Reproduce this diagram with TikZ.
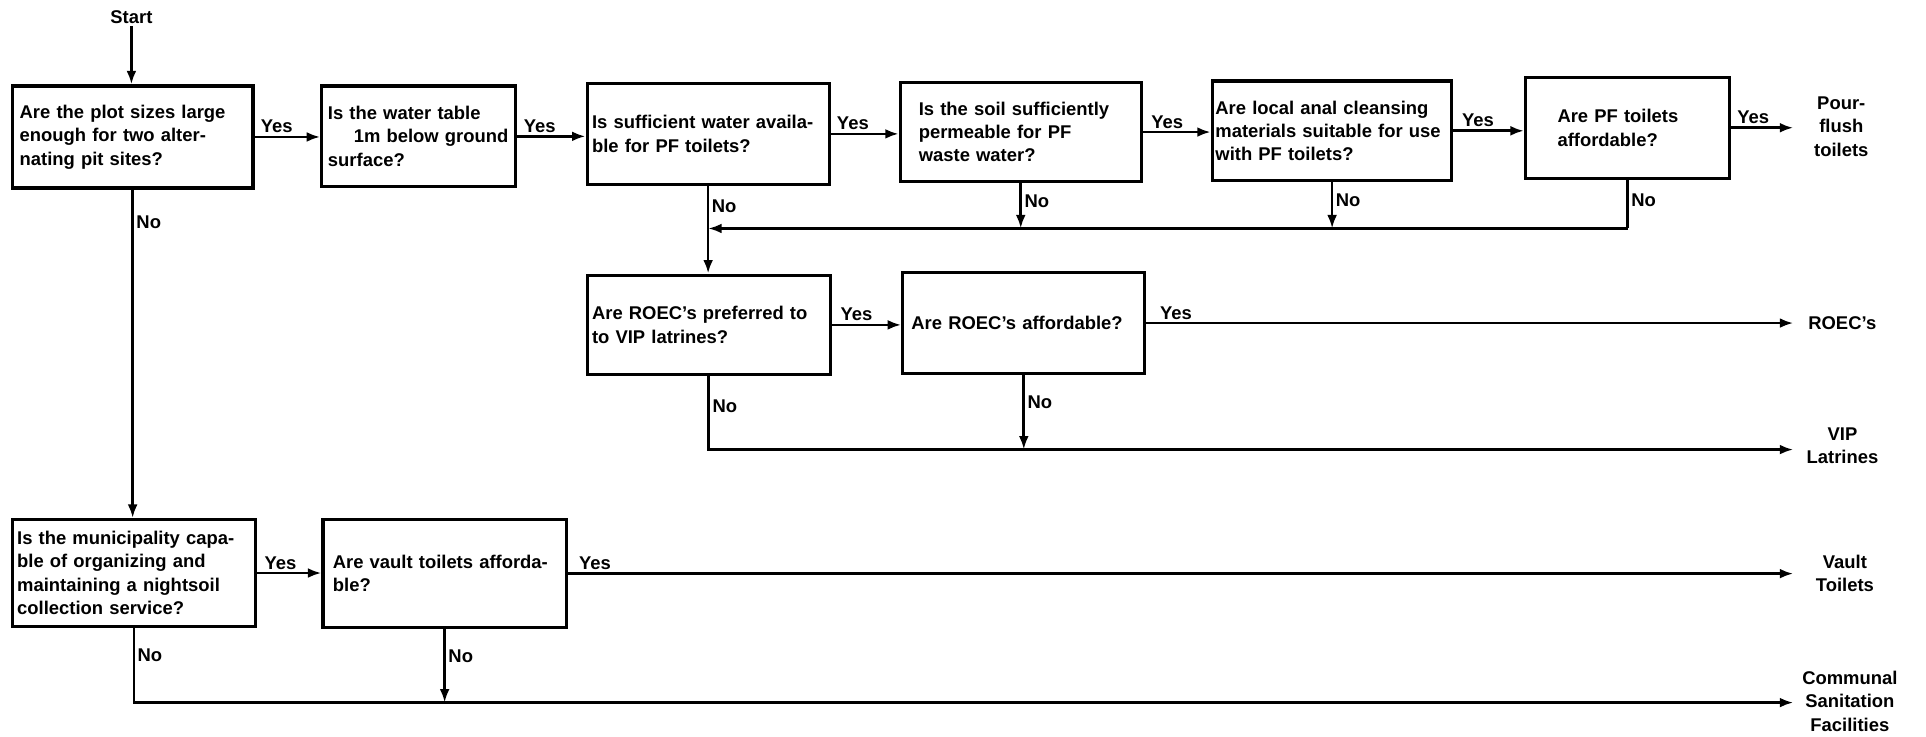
\documentclass[tikz,border=0pt]{standalone}
\usepackage{fontspec}
\setmainfont{Liberation Sans}
\usetikzlibrary{arrows.meta,calc}
\newcommand\flowfont{\bfseries\fontsize{15}{19}\selectfont}
\tikzset{
  qbox/.style={draw, line width=2.6pt, align=left, font=\flowfont, inner ysep=4pt},
  conn/.style={line width=2.2pt},
  arr/.style={conn, -{Latex[length=11pt,width=8pt]}},
  yeslab/.style={font=\flowfont, anchor=south west, inner sep=2pt},
  nolab/.style={font=\flowfont, anchor=north west, inner sep=2pt},
  term/.style={font=\flowfont, align=center, inner sep=0pt},
}
\begin{document}
\begin{tikzpicture}[x=1pt,y=-1pt]
\useasboundingbox[fill=white] (0,0) rectangle (1568,600);

% start
\node[font=\flowfont, inner sep=2pt] (start) at (107,14) {Start};

% boxes
\node[qbox, text width=184pt, inner xsep=6pt, minimum height=83pt] (b1) at (108,111.5)
  {Are the plot sizes large\\enough for two alter-\\nating pit sites?};
\node[qbox, text width=148pt, inner xsep=5pt, minimum height=82pt] (b2) at (341,111)
  {Is the water table\\\hspace*{1.4em}1m below ground\\surface?};
\node[qbox, text width=189pt, inner xsep=4pt, minimum height=82pt] (b3) at (576.5,109)
  {Is sufficient water availa-\\ble for PF toilets?};
\node[qbox, text width=166pt, inner xsep=15pt, minimum height=81pt] (b4) at (831,107.5)
  {Is the soil sufficiently\\permeable for PF\\waste water?};
\node[qbox, text width=190pt, inner xsep=2.5pt, minimum height=81pt] (b5) at (1084.5,106.5)
  {Are local anal cleansing\\materials suitable for use\\with PF toilets?};
\node[qbox, text width=114pt, inner xsep=26pt, minimum height=82pt] (b6) at (1325,104)
  {Are PF toilets\\affordable?};
\node[qbox, text width=190pt, inner xsep=4pt, minimum height=81pt] (b7) at (577,264.5)
  {Are ROEC's preferred to\\to VIP latrines?};
\node[qbox, text width=183pt, inner xsep=7pt, minimum height=82pt] (b8) at (833.5,263)
  {Are ROEC's affordable?};
\node[qbox, text width=190pt, inner xsep=4pt, minimum height=87pt] (b9) at (109,466.5)
  {Is the municipality capa-\\ble of organizing and\\maintaining a nightsoil\\collection service?};
\node[qbox, text width=182pt, inner xsep=8pt, minimum height=88pt] (b10) at (362,467)
  {Are vault toilets afforda-\\ble?};

% terminals
\node[term] (tpour) at (1499,103) {Pour-\\flush\\toilets};
\node[term, anchor=west] (troec) at (1472,263) {ROEC's};
\node[term] (tvip) at (1500,363) {VIP\\Latrines};
\node[term] (tvault) at (1502,467) {Vault\\Toilets};
\node[term] (tcomm) at (1506,571) {Communal\\Sanitation\\Facilities};

% helper coordinates
\coordinate (endcol) at (1460,0);
\coordinate (mrow) at (0,186);
\coordinate (vrow) at (0,366);
\coordinate (crow) at (0,572);

% connectors
\draw[arr] (start.south) -- (start.south |- b1.north);
\draw[arr] (b1.east) -- node[yeslab, pos=0, xshift=2pt] {Yes} (b1.east -| b2.west);
\draw[arr] (b2.east) -- node[yeslab, pos=0, xshift=2pt] {Yes} (b2.east -| b3.west);
\draw[arr] (b3.east) -- node[yeslab, pos=0, xshift=2pt] {Yes} (b3.east -| b4.west);
\draw[arr] (b4.east) -- node[yeslab, pos=0, xshift=4pt] {Yes} (b4.east -| b5.west);
\draw[arr] (b5.east) -- node[yeslab, pos=0, xshift=4pt] {Yes} (b5.east -| b6.west);
\draw[arr] (b6.east) -- node[yeslab, pos=0, xshift=2pt] {Yes} (b6.east -| endcol);

\draw[arr] (b1.south) -- node[nolab, pos=0, yshift=-18pt] {No} (b1.south |- b9.north);
\draw[arr] (b3.south) -- node[nolab, pos=0, yshift=-8pt] {No} (b3.south |- b7.north);
\draw[arr] (b4.south) -- node[nolab, pos=0, yshift=-6pt] {No} (b4.south |- mrow);
\draw[arr] (b5.south) -- node[nolab, pos=0, yshift=-6pt] {No} (b5.south |- mrow);
\draw[conn] (b6.south) -- node[nolab, pos=0, yshift=-8pt] {No} (b6.south |- mrow);
\draw[arr] (b6.south |- mrow) -- (b3.south |- mrow);

\draw[arr] (b7.east) -- node[yeslab, pos=0, xshift=4pt] {Yes} (b7.east -| b8.west);
\draw[arr] (b8.east) -- node[yeslab, pos=0, xshift=8pt] {Yes} (b8.east -| endcol);
\draw[arr] (b7.south) -- node[nolab, pos=0, yshift=-16pt] {No} (b7.south |- vrow) -- (vrow -| endcol);
\draw[arr] (b8.south) -- node[nolab, pos=0, yshift=-14pt] {No} (b8.south |- vrow);

\draw[arr] (b9.east) -- node[yeslab, pos=0, xshift=3pt] {Yes} (b9.east -| b10.west);
\draw[arr] (b10.east) -- node[yeslab, pos=0, xshift=6pt] {Yes} (b10.east -| endcol);
\draw[arr] (b9.south) -- node[nolab, pos=0, yshift=-14pt] {No} (b9.south |- crow) -- (crow -| endcol);
\draw[arr] (b10.south) -- node[nolab, pos=0, yshift=-14pt] {No} (b10.south |- crow);
\end{tikzpicture}
\end{document}
